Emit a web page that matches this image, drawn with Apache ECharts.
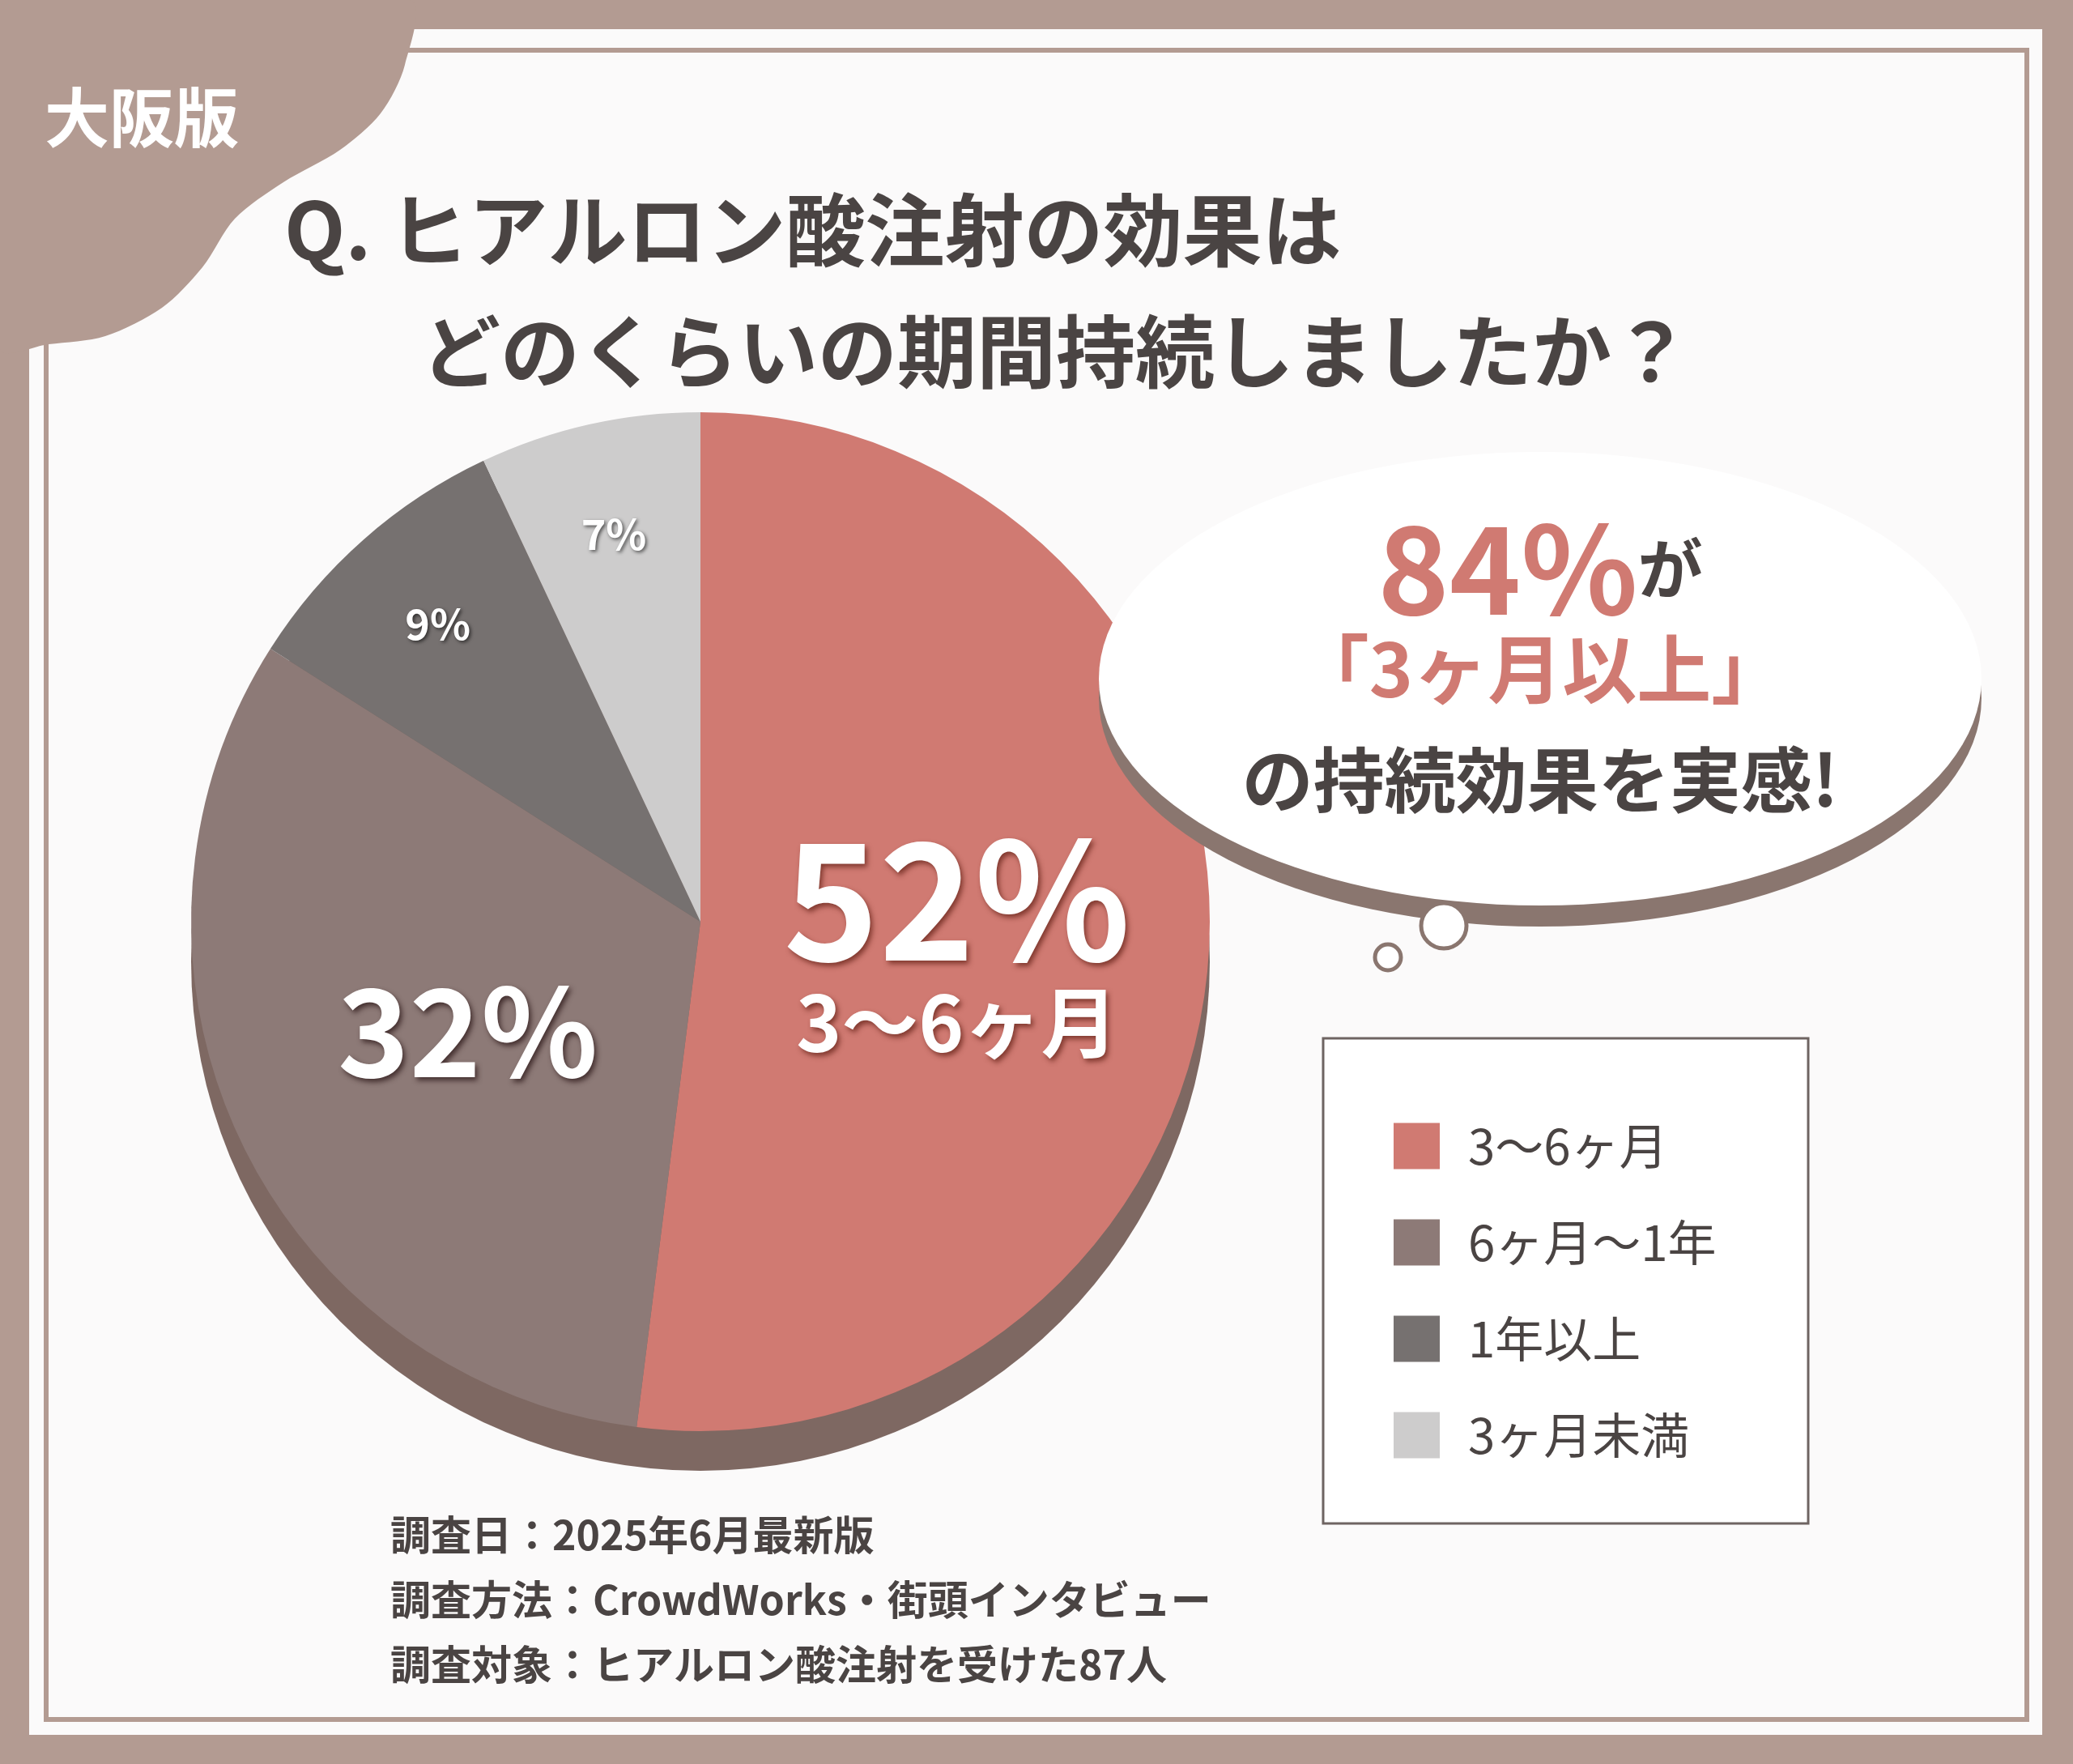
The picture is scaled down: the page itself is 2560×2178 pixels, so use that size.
<!DOCTYPE html>
<html><head><meta charset="utf-8">
<script src="https://cdn.jsdelivr.net/npm/echarts@6/dist/echarts.min.js"></script>
<style>html,body{margin:0;padding:0;background:#b39b92}#c{width:2560px;height:2178px}</style>
</head><body><div id="c"></div>
<script>
const categories = ['3〜6ヶ月', '6ヶ月〜1年', '1年以上', '3ヶ月未満'];
const values = [52, 32, 9, 7];
const colors = ['#d07a72', '#8d7a77', '#767170', '#cdcccc'];
const footer = ['調査日：2025年6月最新版', '調査方法：CrowdWorks・街頭インタビュー', '調査対象：ヒアルロン酸注射を受けた87人'];

const F = '"Noto Sans CJK JP", "Noto Sans", sans-serif';
const chart = echarts.init(document.getElementById('c'));
const C = [865, 1138], R = 629;
const data = categories.map((n, i) => ({ name: n, value: values[i], itemStyle: { color: colors[i] } }));

function ell(cx, cy, rx, ry, style, z) {
  return { type: 'circle', z: z, x: cx, y: cy, scaleY: ry / rx, shape: { cx: 0, cy: 0, r: rx }, style: style };
}
const badge = [[0,0],[505,0],[500,80],[470,140],[420,185],[350,225],[290,270],[250,330],[200,380],[130,415],[60,425],[0,430]];

chart.setOption({
  backgroundColor: '#b39b92',
  graphic: [
    { type: 'rect', z: 0, shape: { x: 36, y: 36, width: 2486, height: 2106 }, style: { fill: '#fbfafa' } },
    { type: 'rect', z: 1, shape: { x: 57, y: 62, width: 2446, height: 2061 }, style: { fill: 'none', stroke: '#b39b92', lineWidth: 6 } },
    { type: 'polygon', z: 2, shape: { points: badge, smooth: 0.3 }, style: { fill: '#b39b92' } },
    { type: 'text', z: 3, left: 55, top: 105, style: { text: '大阪版', fill: '#fff', font: 'bold 80px ' + F } },
    { type: 'text', z: 3, left: 351, top: 235, style: { text: 'Q. ヒアルロン酸注射の効果は', fill: '#4a4443', font: 'bold 98px ' + F } },
    { type: 'text', z: 3, left: 520, top: 385, style: { text: 'どのくらいの期間持続しましたか？', fill: '#4a4443', font: 'bold 98px ' + F } },
    ell(1902, 862, 545, 282, { fill: '#8a766f' }, 3),
    ell(1902, 838, 545, 280, { fill: '#fff' }, 4),
    { type: 'circle', z: 4, shape: { cx: 1783, cy: 1143, r: 28 }, style: { fill: '#fff', stroke: '#8a766f', lineWidth: 5 } },
    { type: 'circle', z: 4, shape: { cx: 1714, cy: 1182, r: 16 }, style: { fill: '#fff', stroke: '#8a766f', lineWidth: 5 } },
    { type: 'text', z: 5, x: 1902, y: 702, style: { rich: { a: { fill: '#d07a72', font: 'bold 150px ' + F }, b: { fill: '#4a4443', font: 'bold 80px ' + F } }, text: '{a|84%}{b|が}', align: 'center', verticalAlign: 'middle' } },
    { type: 'text', z: 5, x: 1902, y: 826, style: { text: '「3ヶ月以上」', fill: '#d07a72', font: 'bold 92px ' + F, align: 'center', verticalAlign: 'middle' } },
    { type: 'text', z: 5, x: 1902, y: 963, style: { text: 'の持続効果を実感!', fill: '#4a4443', font: 'bold 88px ' + F, align: 'center', verticalAlign: 'middle' } },
    { type: 'rect', z: 3, shape: { x: 1634, y: 1282, width: 599, height: 599 }, style: { fill: '#fff', stroke: '#6e6462', lineWidth: 3 } },
    ...footer.map((t, i) => ({ type: 'text', z: 3, left: 482, top: 1870 + i * 80, style: { text: t, fill: '#4a4443', font: 'bold 50px ' + F } }))
  ],
  legend: {
    orient: 'vertical', left: 1716, top: 1380, itemWidth: 57, itemHeight: 57, itemGap: 59, icon: 'rect', z: 10,
    textStyle: { fontFamily: F, fontSize: 60, color: '#4a4443', padding: [0, 0, 0, 30] },
    data: categories
  },
  series: [
    { type: 'pie', silent: true, z: 1, center: [C[0], C[1] + 49], radius: R, startAngle: 90, clockwise: true,
      data: [{ value: 100, itemStyle: { color: '#7e6862' } }], label: { show: false }, labelLine: { show: false } },
    { type: 'pie', center: C, radius: R, startAngle: 90, clockwise: true, data: data, z: 2,
      label: { show: true, position: 'inside', formatter: (p) => p.dataIndex === 0 ? '{a|52%}\n{b|3〜6ヶ月}' : p.dataIndex === 1 ? '{c|32%}' : '',
        rich: {
          a: { fontFamily: F, fontWeight: 'bold', fontSize: 200, color: '#fff', textShadowColor: 'rgba(120,50,40,0.9)', textShadowBlur: 6, textShadowOffsetX: 3, textShadowOffsetY: 4, lineHeight: 210 },
          b: { fontFamily: F, fontWeight: 'bold', fontSize: 95, color: '#fff', textShadowColor: 'rgba(120,50,40,0.9)', textShadowBlur: 6, textShadowOffsetX: 3, textShadowOffsetY: 4 },
          c: { fontFamily: F, fontWeight: 'bold', fontSize: 150, color: '#fff', textShadowColor: 'rgba(60,40,40,0.9)', textShadowBlur: 6, textShadowOffsetX: 3, textShadowOffsetY: 4 }
        } },
      labelLine: { show: false } },
    { type: 'pie', silent: true, center: C, radius: R * 1.55, startAngle: 90, clockwise: true, z: 3,
      data: data.map(d => ({ name: d.name, value: d.value, itemStyle: { color: 'rgba(0,0,0,0)' } })),
      label: { show: true, position: 'inside', formatter: (p) => p.dataIndex >= 2 ? p.value + '%' : '',
        fontFamily: F, fontWeight: 'bold', fontSize: 52, color: '#fff', textShadowColor: 'rgba(0,0,0,0.6)', textShadowBlur: 4, textShadowOffsetX: 2, textShadowOffsetY: 2 },
      labelLine: { show: false } }
  ]
});
</script></body></html>
